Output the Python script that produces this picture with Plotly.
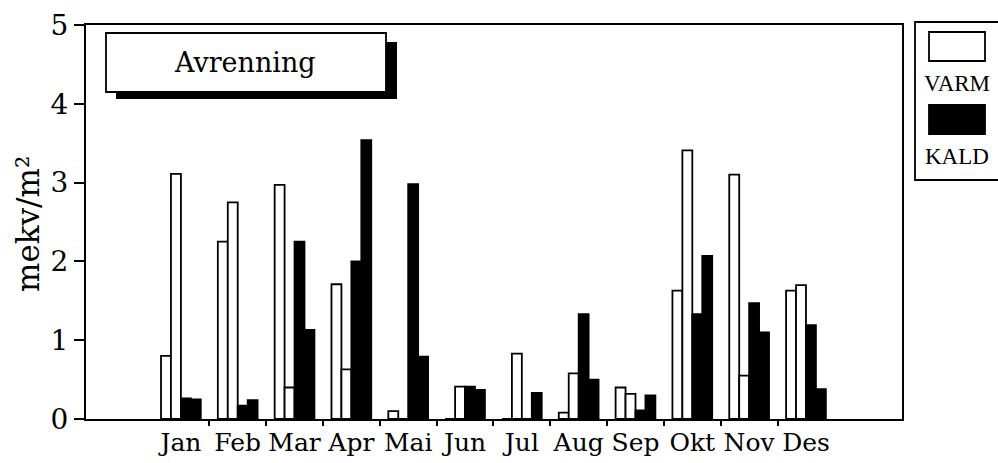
import plotly.graph_objects as go

months = ["Jan", "Feb", "Mar", "Apr", "Mai", "Jun", "Jul", "Aug", "Sep", "Okt", "Nov", "Des"]
varm_1 = [0.80, 2.25, 2.97, 1.71, 0.10, 0.00, 0.00, 0.08, 0.40, 1.63, 3.10, 1.63]
varm_2 = [3.11, 2.75, 0.40, 0.63, 0.00, 0.41, 0.83, 0.58, 0.32, 3.41, 0.55, 1.70]
kald_1 = [0.26, 0.17, 2.25, 2.00, 2.98, 0.41, 0.00, 1.33, 0.11, 1.33, 1.47, 1.19]
kald_2 = [0.25, 0.24, 1.13, 3.54, 0.79, 0.37, 0.33, 0.50, 0.30, 2.07, 1.10, 0.38]
y_ticks = [0, 1, 2, 3, 4, 5]
title_text = "Avrenning"
y_title = "mekv/m²"
legend_names = ["VARM", "KALD"]

W, H = 998, 463
L, R, T, B = 86, 902, 25, 419  # plot area in pixels


def px(x):
    return (x - L) / (R - L)


def py(y):
    return (B - y) / (B - T)


xs = list(range(len(months)))
fig = go.Figure()
series = [(varm_1, "white"), (varm_2, "white"), (kald_1, "black"), (kald_2, "black")]
for i, (vals, col) in enumerate(series):
    fig.add_trace(go.Bar(
        x=xs, y=vals, marker=dict(color=col, line=dict(color="black", width=1.8)),
        offsetgroup=str(i), showlegend=False, hoverinfo="skip"))

serif = "DejaVu Serif"
shapes = []
annotations = []
# title box with shadow
shapes.append(dict(type="rect", xref="paper", yref="paper", x0=px(116), x1=px(397), y0=py(99), y1=py(42),
                   fillcolor="black", line=dict(width=0), layer="above"))
shapes.append(dict(type="rect", xref="paper", yref="paper", x0=px(106), x1=px(386), y0=py(92), y1=py(33),
                   fillcolor="white", line=dict(color="black", width=1.8), layer="above"))
annotations.append(dict(xref="paper", yref="paper", x=px(245), y=py(63), text=title_text, showarrow=False,
                        font=dict(family=serif, size=27, color="black"), xanchor="center", yanchor="middle"))
# legend box
shapes.append(dict(type="rect", xref="paper", yref="paper", x0=px(915), x1=px(1010), y0=py(180), y1=py(22),
                   fillcolor="white", line=dict(color="black", width=1.8), layer="above"))
shapes.append(dict(type="rect", xref="paper", yref="paper", x0=px(929), x1=px(985), y0=py(61), y1=py(32),
                   fillcolor="white", line=dict(color="black", width=1.8), layer="above"))
shapes.append(dict(type="rect", xref="paper", yref="paper", x0=px(929), x1=px(985), y0=py(134), y1=py(105),
                   fillcolor="black", line=dict(color="black", width=1.8), layer="above"))
for name, yy in zip(legend_names, [83, 156]):
    annotations.append(dict(xref="paper", yref="paper", x=px(957), y=py(yy), text=name, showarrow=False,
                            font=dict(family="Liberation Serif", size=23, color="black"),
                            xanchor="center", yanchor="middle"))
annotations.append(dict(xref="paper", yref="paper", x=px(28), y=py(224), text=y_title, showarrow=False,
                        textangle=-90, font=dict(family=serif, size=31, color="black"),
                        xanchor="center", yanchor="middle"))

fig.update_layout(
    width=W, height=H,
    margin=dict(l=L, r=W - R, t=T, b=H - B, pad=0, autoexpand=False),
    paper_bgcolor="white", plot_bgcolor="white",
    barmode="group", bargap=0.3, bargroupgap=0,
    shapes=shapes, annotations=annotations,
    xaxis=dict(range=[-1.67, 12.69], tickmode="array", tickvals=xs, ticktext=months, automargin=False,
               ticks="", showgrid=False, zeroline=False, showline=True, linecolor="black", linewidth=2,
               mirror=True, tickfont=dict(family=serif, size=25, color="black"),
               minor=dict(tickmode="array", tickvals=[i + 0.5 for i in xs[:-1]], ticks="outside",
                          ticklen=5, tickwidth=2, tickcolor="black", showgrid=False)),
    yaxis=dict(range=[0, 5], tickmode="array", tickvals=y_ticks, ticks="outside", ticklen=10, tickwidth=2,
               automargin=False,
               tickcolor="black", showgrid=False, zeroline=False, showline=True, linecolor="black",
               linewidth=2, mirror=True, tickfont=dict(family=serif, size=28, color="black")),
)
fig.write_html("out.html", config={"displayModeBar": False},
               post_script="document.body.style.margin='0';")
